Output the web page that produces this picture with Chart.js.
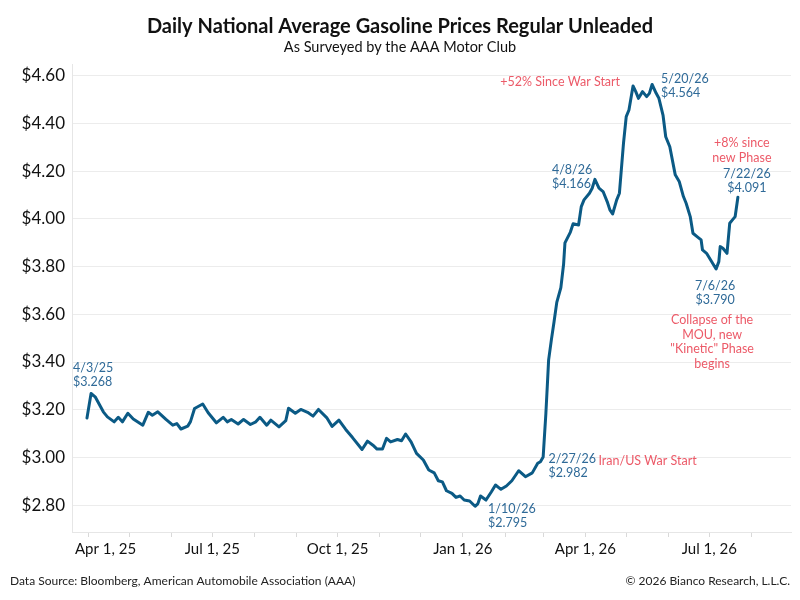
<!DOCTYPE html>
<html>
<head>
<meta charset="utf-8">
<script src="https://cdn.jsdelivr.net/npm/chart.js@4.4.1/dist/chart.umd.min.js"></script>
<style>
  html, body { margin: 0; background: #fff; }
  #caja { width: 800px; height: 600px; }
</style>
</head>
<body>
<div id="caja"><canvas id="grafica"></canvas></div>
<script>
// Precio promedio diario (AAA)
const fechas = [
  '2025-03-31','2025-04-03','2025-04-06','2025-04-12','2025-04-15','2025-04-20','2025-04-23','2025-04-26','2025-04-30',
  '2025-05-04','2025-05-11','2025-05-15','2025-05-18','2025-05-22','2025-05-28',
  '2025-06-02','2025-06-05','2025-06-08','2025-06-13','2025-06-15','2025-06-18','2025-06-24','2025-06-28',
  '2025-07-04','2025-07-09','2025-07-12','2025-07-15','2025-07-20','2025-07-24','2025-07-29',
  '2025-08-02','2025-08-05','2025-08-10','2025-08-13','2025-08-19','2025-08-24','2025-08-26','2025-08-31',
  '2025-09-04','2025-09-09','2025-09-13','2025-09-17','2025-09-23','2025-09-27',
  '2025-10-02','2025-10-07','2025-10-12','2025-10-19','2025-10-23','2025-10-27','2025-10-30',
  '2025-11-03','2025-11-06','2025-11-09','2025-11-14','2025-11-17','2025-11-20','2025-11-24','2025-11-28',
  '2025-12-03','2025-12-07','2025-12-11','2025-12-14','2025-12-17','2025-12-20','2025-12-24','2025-12-27','2025-12-30',
  '2026-01-02','2026-01-06','2026-01-10','2026-01-12','2026-01-14','2026-01-18','2026-01-22','2026-01-25','2026-01-29',
  '2026-02-02','2026-02-06','2026-02-11','2026-02-16','2026-02-21','2026-02-25','2026-02-27',
  '2026-03-01','2026-03-03','2026-03-04','2026-03-05','2026-03-07','2026-03-09','2026-03-11','2026-03-14','2026-03-16',
  '2026-03-17','2026-03-21','2026-03-23','2026-03-27','2026-03-29','2026-03-31',
  '2026-04-04','2026-04-06','2026-04-08','2026-04-11','2026-04-14','2026-04-17','2026-04-19','2026-04-21','2026-04-24',
  '2026-04-26','2026-04-29',
  '2026-05-01','2026-05-03','2026-05-06','2026-05-08','2026-05-10','2026-05-13','2026-05-16','2026-05-18','2026-05-20',
  '2026-05-23','2026-05-25','2026-05-28','2026-05-30',
  '2026-06-02','2026-06-06','2026-06-09','2026-06-12','2026-06-14','2026-06-17','2026-06-19','2026-06-22','2026-06-25',
  '2026-06-26','2026-06-29',
  '2026-07-02','2026-07-06','2026-07-08','2026-07-09','2026-07-11','2026-07-14','2026-07-16','2026-07-18','2026-07-20',
  '2026-07-22'
];
const precios = [
  3.165,3.268,3.254,3.191,3.170,3.149,3.168,3.149,3.185,
  3.161,3.135,3.189,3.177,3.191,3.159,
  3.135,3.142,3.119,3.131,3.150,3.205,3.224,3.187,
  3.145,3.168,3.149,3.159,3.140,3.159,3.138,
  3.149,3.168,3.135,3.156,3.128,3.154,3.206,3.185,
  3.201,3.189,3.173,3.201,3.167,3.130,
  3.156,3.117,3.083,3.033,3.068,3.051,3.035,
  3.035,3.080,3.065,3.075,3.070,3.098,3.065,3.017,
  2.989,2.947,2.935,2.902,2.897,2.860,2.849,2.832,2.838,
  2.821,2.817,2.795,2.805,2.838,2.821,2.856,2.884,2.866,
  2.880,2.902,2.944,2.919,2.935,2.975,2.982,
  3.002,3.185,3.296,3.408,3.492,3.569,3.650,3.712,3.810,
  3.900,3.945,3.980,3.975,4.052,4.080,
  4.108,4.129,4.166,4.129,4.115,4.073,4.038,4.021,4.080,
  4.108,4.318,
  4.429,4.457,4.558,4.534,4.506,4.534,4.513,4.527,4.564,
  4.527,4.506,4.436,4.345,
  4.303,4.185,4.156,4.094,4.066,4.010,3.940,3.926,3.912,
  3.870,3.856,
  3.828,3.790,3.821,3.884,3.877,3.856,3.982,3.996,4.010,
  4.091
];

// Ejes
const ticksY = [2.8, 3.0, 3.2, 3.4, 3.6, 3.8, 4.0, 4.2, 4.4, 4.6];
const mesesEje = [
  '2025-04-01','2025-05-01','2025-06-01','2025-07-01','2025-08-01','2025-09-01','2025-10-01','2025-11-01','2025-12-01',
  '2026-01-01','2026-02-01','2026-03-01','2026-04-01','2026-05-01','2026-06-01','2026-07-01','2026-08-01'
];
const etiquetasX = {
  '2025-04-01': 'Apr 1, 25', '2025-07-01': 'Jul 1, 25', '2025-10-01': 'Oct 1, 25',
  '2026-01-01': 'Jan 1, 26', '2026-04-01': 'Apr 1, 26', '2026-07-01': 'Jul 1, 26'
};

const azul = '#2f6a98';
const rojo = '#ec5a68';
const fuente = 'Lato, "Open Sans", sans-serif';

// Notas sobre la linea (ancladas al punto de esa fecha)
const notas = [
  { fecha: '2025-04-03', dx: -18, dy: -26, align: 'left', color: azul, lineas: ['4/3/25', '$3.268'] },
  { fecha: '2026-01-10', dx: 13, dy: 3, align: 'left', color: azul, lineas: ['1/10/26', '$2.795'] },
  { fecha: '2026-02-27', dx: 8, dy: -3, align: 'left', color: azul, lineas: ['2/27/26', '$2.982'] },
  { fecha: '2026-02-27', dx: 58, dy: -1, align: 'left', color: rojo, lineas: ['Iran/US War Start'] },
  { fecha: '2026-04-08', dx: -43, dy: -9, align: 'left', color: azul, lineas: ['4/8/26', '$4.166'] },
  { fecha: '2026-05-20', dx: -32, dy: -3, align: 'right', color: rojo, lineas: ['+52% Since War Start'] },
  { fecha: '2026-05-20', dx: 9, dy: -6, align: 'left', color: azul, lineas: ['5/20/26', '$4.564'] },
  { fecha: '2026-07-22', dx: 4, dy: -54, align: 'center', color: rojo, lineas: ['+8% since', 'new Phase'] },
  { fecha: '2026-07-22', dx: 9, dy: -23, align: 'center', color: azul, lineas: ['7/22/26', '$4.091'] },
  { fecha: '2026-07-06', dx: -1, dy: 17, align: 'center', color: azul, lineas: ['7/6/26', '$3.790'] },
  { fecha: '2026-07-06', dx: -4, dy: 51, align: 'center', color: rojo, lineas: ['Collapse of the', 'MOU, new', '"Kinetic" Phase', 'begins'] }
];

const textos = {
  id: 'textos',
  afterDraw(chart) {
    const ctx = chart.ctx;
    const xs = chart.scales.x, ys = chart.scales.y;
    const area = chart.chartArea;
    ctx.save();
    ctx.textBaseline = 'middle';

    // titulo
    ctx.fillStyle = '#111';
    ctx.textAlign = 'center';
    ctx.font = 'bold 20px ' + fuente;
    ctx.fillText('Daily National Average Gasoline Prices Regular Unleaded', 400, 27);
    ctx.font = '14.5px ' + fuente;
    ctx.fillText('As Surveyed by the AAA Motor Club', 400, 47);

    // etiquetas del eje x (la primera no se sale del area)
    ctx.font = '15px ' + fuente;
    ctx.textAlign = 'left';
    Object.keys(etiquetasX).forEach(f => {
      const txt = etiquetasX[f];
      const w = ctx.measureText(txt).width;
      const px = xs.getPixelForValue(Date.parse(f));
      const izq = Math.max(px - w / 2, area.left + 3);
      ctx.fillText(txt, izq, 549);
    });

    // notas
    notas.forEach(n => {
      const i = fechas.indexOf(n.fecha);
      const px = xs.getPixelForValue(Date.parse(n.fecha));
      const py = ys.getPixelForValue(precios[i]);
      ctx.font = '12.5px ' + fuente;
      ctx.fillStyle = n.color;
      ctx.textAlign = n.align;
      const alto = n.color === rojo ? 14.7 : 14;
      n.lineas.forEach((l, k) => ctx.fillText(l, px + n.dx, py + n.dy + k * alto));
    });

    // pie
    ctx.font = '12px ' + fuente;
    ctx.fillStyle = '#222';
    ctx.textAlign = 'left';
    ctx.fillText('Data Source: Bloomberg, American Automobile Association (AAA)', 10, 581);
    ctx.textAlign = 'right';
    ctx.fillText('\u00A9 2026 Bianco Research, L.L.C.', 790, 581);
    ctx.restore();
  }
};

const puntos = fechas.map((f, i) => ({ x: Date.parse(f), y: precios[i] }));

new Chart(document.getElementById('grafica'), {
  type: 'line',
  data: {
    datasets: [{
      data: puntos,
      borderColor: '#0b5a85',
      borderWidth: 3,
      pointRadius: 0,
      tension: 0,
      borderJoinStyle: 'round',
      borderCapStyle: 'round'
    }]
  },
  options: {
    responsive: true,
    maintainAspectRatio: false,
    animation: false,
    layout: { padding: { top: 64, right: 9, bottom: 40, left: 0 } },
    plugins: {
      legend: { display: false },
      tooltip: { enabled: false },
      title: { display: false }
    },
    scales: {
      x: {
        type: 'linear',
        min: Date.UTC(2025, 2, 20),
        max: Date.UTC(2026, 7, 30),
        afterBuildTicks: s => { s.ticks = mesesEje.map(m => ({ value: Date.parse(m) })); },
        afterFit: s => { s.height = 28; },
        ticks: { autoSkip: false, maxRotation: 0, callback: () => '' },
        grid: { drawOnChartArea: false, drawTicks: true, tickLength: 5, color: '#d9d9d9' },
        border: { color: '#e6e6e6' }
      },
      y: {
        min: 2.687,
        max: 4.65,
        afterBuildTicks: s => { s.ticks = ticksY.map(v => ({ value: v })); },
        afterFit: s => { s.width = 72; },
        ticks: {
          callback: v => '$' + Number(v).toFixed(2),
          font: { family: fuente, size: 17 },
          color: '#111',
          padding: 7
        },
        grid: { color: '#ececec', drawTicks: false },
        border: { color: '#e6e6e6' }
      }
    }
  },
  plugins: [textos]
});
</script>
</body>
</html>
